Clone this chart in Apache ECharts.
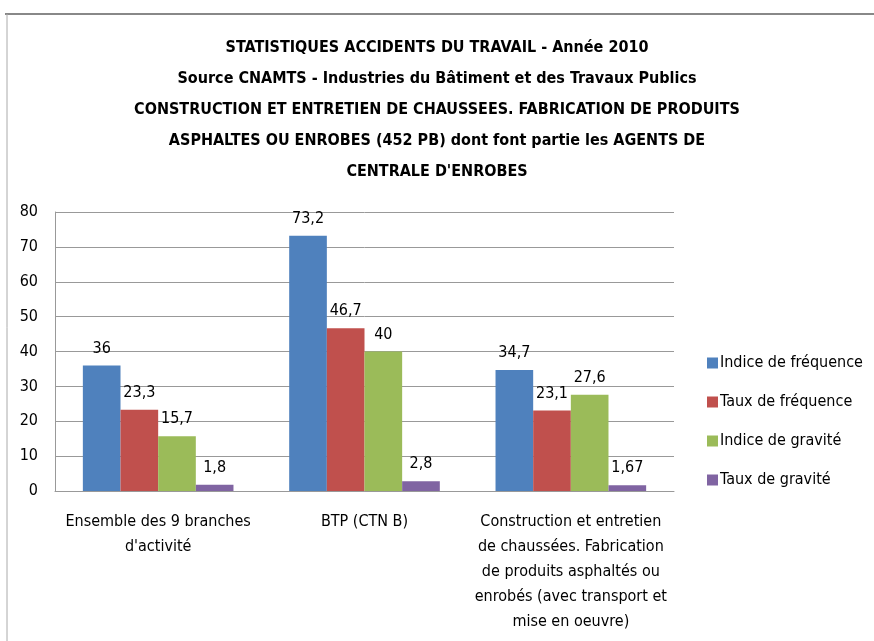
<!DOCTYPE html>
<html>
<head>
<meta charset="utf-8">
<script src="https://cdn.jsdelivr.net/npm/echarts@6/dist/echarts.min.js"></script>
<style>
  html, body { margin: 0; padding: 0; background: #fff; }
  #chart { width: 874px; height: 641px; }
</style>
</head>
<body>
<div id="chart"></div>
<script>
// categories and series
var categories = [
    'Ensemble des 9 branches\nd\'activité',
    'BTP (CTN B)',
    'Construction et entretien\nde chaussées. Fabrication\nde produits asphaltés ou\nenrobés (avec transport et\nmise en oeuvre)'
];
var seriesNames = ['Indice de fréquence', 'Taux de fréquence', 'Indice de gravité', 'Taux de gravité'];
var indiceFrequence = [36, 73.2, 34.7];
var tauxFrequence = [23.3, 46.7, 23.1];
var indiceGravite = [15.7, 40, 27.6];
var tauxGravite = [1.8, 2.8, 1.67];
var colors = ['#4F81BD', '#C0504D', '#9BBB59', '#8064A2'];

var font = '"DejaVu Sans Condensed", "Liberation Sans Narrow", "Noto Sans", sans-serif';
var titleText = 'STATISTIQUES ACCIDENTS DU TRAVAIL - Année 2010\n' +
    'Source CNAMTS - Industries du Bâtiment et des Travaux Publics\n' +
    'CONSTRUCTION ET ENTRETIEN DE CHAUSSEES. FABRICATION DE PRODUITS\n' +
    'ASPHALTES OU ENROBES (452 PB) dont font partie les AGENTS DE\n' +
    'CENTRALE D\'ENROBES';

var allData = [indiceFrequence, tauxFrequence, indiceGravite, tauxGravite];

var series = seriesNames.map(function (name, i) {
    return {
        name: name,
        type: 'bar',
        data: allData[i],
        barGap: '0%',
        barCategoryGap: '27%',
        itemStyle: { color: colors[i] },
        label: {
            show: true,
            position: 'top',
            distance: 9,
            fontFamily: font,
            fontSize: 16,
            color: '#000',
            formatter: function (p) { return String(p.value).replace('.', ','); }
        }
    };
});

var option = {
    animation: false,
    textStyle: { fontFamily: font },
    title: {
        text: titleText,
        left: 'center',
        top: 27,
        textStyle: {
            fontFamily: font,
            fontSize: 16,
            fontWeight: 'bold',
            lineHeight: 31,
            color: '#000'
        }
    },
    legend: {
        orient: 'vertical',
        left: 702,
        top: 350,
        itemWidth: 11,
        itemHeight: 11,
        itemGap: 23,
        icon: 'rect',
        data: seriesNames,
        textStyle: { fontFamily: font, fontSize: 16, color: '#000', padding: [0, 0, 0, -3] }
    },
    grid: {
        left: 55,
        right: 200,
        top: 212,
        bottom: 150
    },
    xAxis: {
        type: 'category',
        data: categories,
        axisTick: { show: false },
        axisLine: { lineStyle: { color: '#999', width: 1 } },
        axisLabel: {
            interval: 0,
            margin: 18,
            fontFamily: font,
            fontSize: 16,
            lineHeight: 25,
            color: '#000'
        }
    },
    yAxis: {
        type: 'value',
        min: 0,
        max: 80,
        interval: 10,
        axisLine: { show: true, lineStyle: { color: '#999' } },
        axisTick: { show: false },
        splitLine: { lineStyle: { color: '#999', width: 1 } },
        axisLabel: {
            fontFamily: font,
            fontSize: 16,
            color: '#000',
            margin: 17
        }
    },
    graphic: [
        { type: 'line', shape: { x1: 5, y1: 14, x2: 874, y2: 14 }, style: { stroke: '#888', lineWidth: 2 } },
        { type: 'line', shape: { x1: 7, y1: 14, x2: 7, y2: 641 }, style: { stroke: '#aaa', lineWidth: 1 } }
    ],
    series: series
};

var myChart = echarts.init(document.getElementById('chart'));
myChart.setOption(option);
</script>
</body>
</html>
